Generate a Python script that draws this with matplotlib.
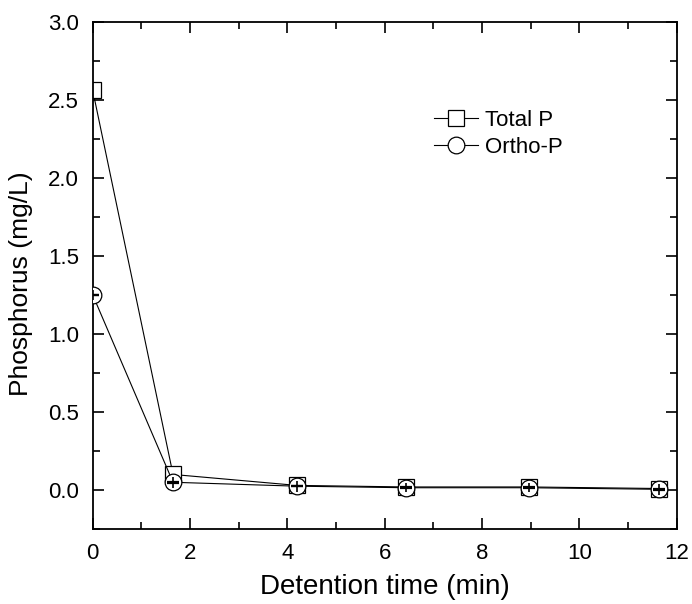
import matplotlib
matplotlib.use("Agg")
import matplotlib.pyplot as plt
from matplotlib.ticker import MultipleLocator

plt.rcParams['font.family'] = ['Liberation Sans', 'DejaVu Sans']

# detention time (min)
time_min = [0, 1.65, 4.19, 6.44, 8.96, 11.64]
total_p = [2.56, 0.10, 0.03, 0.02, 0.02, 0.01]
ortho_p = [1.25, 0.05, 0.025, 0.015, 0.015, 0.005]
ortho_p_err = [0.03, 0.035, 0.035, 0.03, 0.03, 0.035]

fig = plt.figure(figsize=(6.92, 6.04), dpi=100)
ax = fig.add_axes([0.134, 0.124, 0.844, 0.840])

ax.plot(time_min, total_p, color='black', lw=0.8, marker='s', ms=11,
        mfc='white', mec='black', mew=0.9, label='Total P', zorder=2)
ax.plot(time_min, ortho_p, color='black', lw=0.8, marker='o', ms=12,
        mfc='white', mec='black', mew=0.9, label='Ortho-P', zorder=3)
# error bars sit on top of the open markers
ax.errorbar(time_min, ortho_p, yerr=ortho_p_err, fmt='none', ecolor='black',
            capsize=0, elinewidth=1.2, zorder=4)
ax.errorbar(time_min, ortho_p, yerr=[0.002] * len(ortho_p), fmt='none',
            ecolor='black', capsize=4, capthick=1.6, elinewidth=1.2, zorder=5)

ax.set_xlim(0, 12)
ax.set_ylim(-0.25, 3.0)
ax.xaxis.set_major_locator(MultipleLocator(2))
ax.xaxis.set_minor_locator(MultipleLocator(1))
ax.yaxis.set_major_locator(MultipleLocator(0.5))
ax.yaxis.set_minor_locator(MultipleLocator(0.25))
ax.yaxis.set_major_formatter(plt.FormatStrFormatter('%.1f'))

ax.tick_params(which='both', direction='in', top=True, right=True, width=1.2,
               labelsize=16, pad=10)
ax.tick_params(which='major', length=8)
ax.tick_params(which='minor', length=5)
for s in ax.spines.values():
    s.set_linewidth(1.3)

ax.set_xlabel('Detention time (min)', fontsize=20, labelpad=7)
ax.set_ylabel('Phosphorus (mg/L)', fontsize=19)
ax.yaxis.set_label_coords(-0.103, 0.483)

ax.legend(loc='upper left', bbox_to_anchor=(0.565, 0.848),
          frameon=False, fontsize=16, handlelength=2.0, handletextpad=0.3,
          labelspacing=0.25, borderpad=0)

fig.savefig('out.png', dpi=100)
